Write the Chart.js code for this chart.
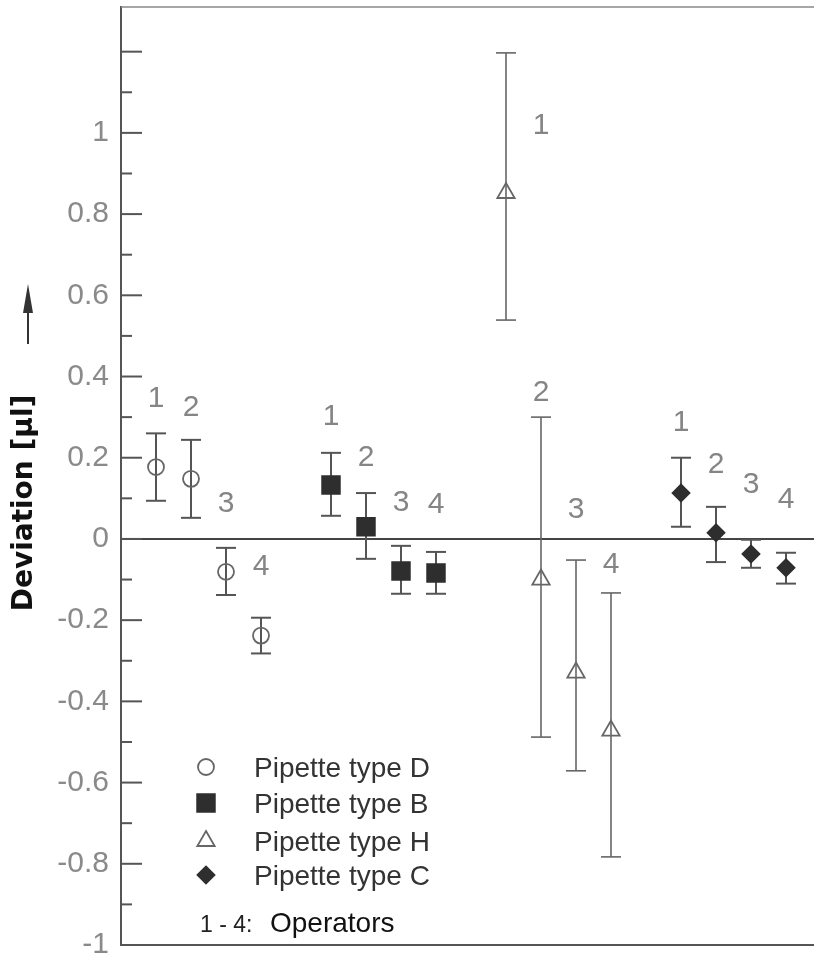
<!DOCTYPE html>
<html>
<head>
<meta charset="utf-8">
<script src="https://cdn.jsdelivr.net/npm/chart.js@4"></script>
<style>
  body { margin: 0; background: #fff; }
</style>
</head>
<body>
<canvas id="deviation-chart" width="814" height="956"></canvas>
<script>
const operators = ['1', '2', '3', '4'];
const pipetteTypes = ['Pipette type D', 'Pipette type B', 'Pipette type H', 'Pipette type C'];

// x slot of each operator, one group per pipette type
const slotsD = [1, 2, 3, 4];
const slotsB = [6, 7, 8, 9];
const slotsH = [11, 12, 13, 14];
const slotsC = [16, 17, 18, 19];

// mean deviation [µl] and error bar ends
const meanD = [0.177, 0.148, -0.081, -0.238];
const highD = [0.26, 0.244, -0.022, -0.194];
const lowD = [0.094, 0.052, -0.138, -0.282];

const meanB = [0.133, 0.03, -0.079, -0.084];
const highB = [0.212, 0.113, -0.017, -0.032];
const lowB = [0.057, -0.049, -0.135, -0.135];

const meanH = [0.852, -0.1, -0.329, -0.472];
const highH = [1.197, 0.30, -0.052, -0.133];
const lowH = [0.539, -0.488, -0.571, -0.783];

const meanC = [0.113, 0.015, -0.037, -0.071];
const highC = [0.2, 0.079, -0.002, -0.034];
const lowC = [0.03, -0.057, -0.071, -0.11];

// where the operator numbers sit
const labelSlotH = [12, 12, 13, 14];
const labelYD = [0.346, 0.322, 0.086, -0.069];
const labelYB = [0.302, 0.199, 0.088, 0.084];
const labelYH = [1.017, 0.359, 0.071, -0.064];
const labelYC = [0.285, 0.182, 0.133, 0.096];

const series = [
  { name: pipetteTypes[0], slots: slotsD, mean: meanD, high: highD, low: lowD, labelX: slotsD, labelY: labelYD,
    style: 'circle', radius: 8, fill: 'rgba(0,0,0,0)', stroke: '#666', bar: '#555', barWidth: 2 },
  { name: pipetteTypes[1], slots: slotsB, mean: meanB, high: highB, low: lowB, labelX: slotsB, labelY: labelYB,
    style: 'rect', radius: 12.5, fill: '#2e2e2e', stroke: '#2e2e2e', bar: '#555', barWidth: 2 },
  { name: pipetteTypes[2], slots: slotsH, mean: meanH, high: highH, low: lowH, labelX: labelSlotH, labelY: labelYH,
    style: 'triangle', radius: 10, fill: 'rgba(0,0,0,0)', stroke: '#666', bar: '#666', barWidth: 1.6 },
  { name: pipetteTypes[3], slots: slotsC, mean: meanC, high: highC, low: lowC, labelX: slotsC, labelY: labelYC,
    style: 'rectRot', radius: 8.5, fill: '#2e2e2e', stroke: '#2e2e2e', bar: '#555', barWidth: 2 }
];

const datasets = series.map(s => ({
  label: s.name,
  data: s.slots.map((x, i) => ({ x: x, y: s.mean[i] })),
  pointStyle: s.style,
  pointRadius: s.radius,
  pointHoverRadius: s.radius,
  pointBackgroundColor: s.fill,
  pointBorderColor: s.stroke,
  pointBorderWidth: 1.8,
  showLine: false,
  clip: false
}));

function line(ctx, x1, y1, x2, y2) {
  ctx.beginPath();
  ctx.moveTo(x1, y1);
  ctx.lineTo(x2, y2);
  ctx.stroke();
}

const decorations = {
  id: 'decorations',
  beforeDatasetsDraw(chart) {
    const ctx = chart.ctx;
    const a = chart.chartArea;
    const xs = chart.scales.x;
    const ys = chart.scales.y;
    ctx.save();

    // frame top, bottom and the zero line
    ctx.strokeStyle = '#888';
    ctx.lineWidth = 1.5;
    line(ctx, a.left, a.top, a.right, a.top);
    ctx.strokeStyle = '#555';
    ctx.lineWidth = 2;
    line(ctx, a.left, a.bottom, a.right, a.bottom);
    const y0 = ys.getPixelForValue(0);
    ctx.strokeStyle = '#444';
    line(ctx, a.left, y0, a.right, y0);

    // inward tick marks, long every 0.2, short every 0.1
    ctx.strokeStyle = '#555';
    for (let i = -9; i <= 12; i++) {
      const y = ys.getPixelForValue(i / 10);
      line(ctx, a.left, y, a.left + (i % 2 === 0 ? 21 : 11), y);
    }

    // error bars
    series.forEach(s => {
      ctx.strokeStyle = s.bar;
      ctx.lineWidth = s.barWidth;
      s.slots.forEach((slot, i) => {
        const x = xs.getPixelForValue(slot);
        const yt = ys.getPixelForValue(s.high[i]);
        const yb = ys.getPixelForValue(s.low[i]);
        line(ctx, x, yt, x, yb);
        line(ctx, x - 10, yt, x + 10, yt);
        line(ctx, x - 10, yb, x + 10, yb);
      });
    });
    ctx.restore();
  },
  afterDatasetsDraw(chart) {
    const ctx = chart.ctx;
    const xs = chart.scales.x;
    const ys = chart.scales.y;
    ctx.save();

    // operator numbers
    ctx.fillStyle = '#858585';
    ctx.font = '30px "Liberation Sans", Arial, sans-serif';
    ctx.textAlign = 'center';
    ctx.textBaseline = 'middle';
    series.forEach(s => {
      s.labelX.forEach((slot, i) => {
        ctx.fillText(operators[i], xs.getPixelForValue(slot), ys.getPixelForValue(s.labelY[i]));
      });
    });

    // legend in the lower left corner
    const rows = [767, 803, 841, 875];
    series.forEach((s, i) => {
      ctx.fillStyle = s.fill;
      ctx.strokeStyle = s.stroke;
      ctx.lineWidth = 1.8;
      Chart.helpers.drawPoint(ctx, { pointStyle: s.style, radius: s.radius, rotation: 0, borderWidth: 1.8 }, 206, rows[i]);
      ctx.fillStyle = '#333';
      ctx.font = '28px "Liberation Sans", Arial, sans-serif';
      ctx.textAlign = 'left';
      ctx.textBaseline = 'alphabetic';
      ctx.fillText(s.name, 254, rows[i] + 10);
    });
    ctx.fillStyle = '#222';
    ctx.font = '23px "Liberation Sans", Arial, sans-serif';
    ctx.fillText('1 - 4:', 200, 932);
    ctx.fillStyle = '#111';
    ctx.font = '28px "Liberation Sans", Arial, sans-serif';
    ctx.fillText('Operators', 270, 932);

    // axis title with its arrow
    ctx.save();
    ctx.translate(32, 503);
    ctx.rotate(-Math.PI / 2);
    ctx.fillStyle = '#111';
    ctx.font = 'bold 28px "DejaVu Sans", sans-serif';
    ctx.textAlign = 'center';
    ctx.fillText('Deviation [µl]', 0, 0);
    ctx.restore();

    ctx.strokeStyle = '#333';
    ctx.fillStyle = '#333';
    ctx.lineWidth = 2;
    line(ctx, 28, 344, 28, 305);
    ctx.beginPath();
    ctx.moveTo(28, 284);
    ctx.lineTo(23, 313);
    ctx.lineTo(33, 313);
    ctx.closePath();
    ctx.fill();
    ctx.restore();
  }
};

let chart = new Chart(document.getElementById('deviation-chart'), {
  type: 'scatter',
  data: { datasets: datasets },
  plugins: [decorations],
  options: {
    responsive: false,
    animation: false,
    devicePixelRatio: 1,
    layout: { autoPadding: false, padding: { top: 7, bottom: 11, right: 0, left: 0 } },
    plugins: {
      legend: { display: false },
      tooltip: { enabled: false },
      title: { display: false }
    },
    scales: {
      x: {
        type: 'linear',
        min: 0,
        max: 19.8,
        display: false
      },
      y: {
        type: 'linear',
        min: -1,
        max: 1.31,
        afterFit: function(scale) {
          scale.width = 121;
          scale.paddingTop = 0;
          scale.paddingBottom = 0;
        },
        grid: { display: false, drawTicks: false },
        border: { display: true, color: '#555', width: 2 },
        ticks: {
          stepSize: 0.1,
          autoSkip: false,
          padding: 12,
          color: '#8a8a8a',
          font: { family: '"Liberation Sans", Arial, sans-serif', size: 30 },
          callback: function(value) {
            const t = Math.round(value * 10);
            if (t % 2 !== 0 || t > 10 || t < -10) return '';
            return String(t / 10);
          }
        }
      }
    }
  }
});
</script>
</body>
</html>
